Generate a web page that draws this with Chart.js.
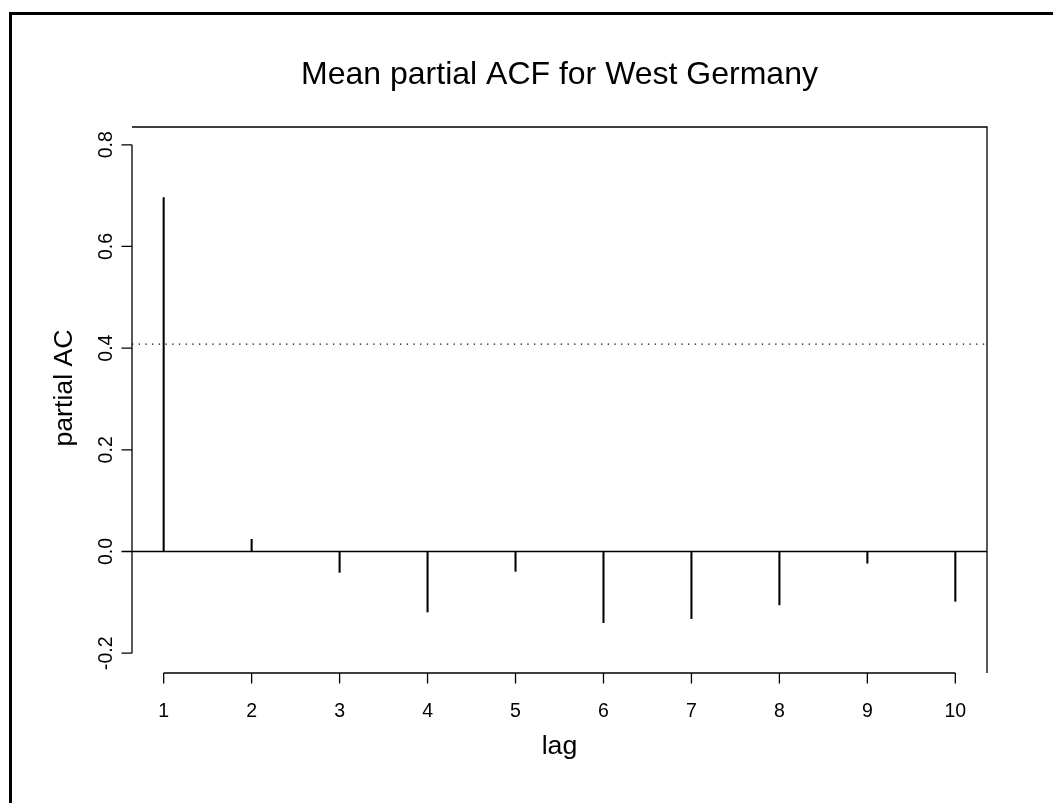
<!DOCTYPE html>
<html>
<head>
<meta charset="utf-8">
<script src="https://cdn.jsdelivr.net/npm/chart.js@4"></script>
<style>
html,body{margin:0;padding:0;background:#fff;}
canvas{display:block;}
</style>
</head>
<body>
<canvas id="c" width="1053" height="803"></canvas>
<script>
const titleText = 'Mean partial ACF for West Germany';
const xLabel = 'lag';
const yLabel = 'partial AC';
const lags = [1, 2, 3, 4, 5, 6, 7, 8, 9, 10];
const pacf = [0.696, 0.024, -0.041, -0.119, -0.039, -0.140, -0.132, -0.105, -0.023, -0.098];
const xTicks = [1, 2, 3, 4, 5, 6, 7, 8, 9, 10];
const yTicks = [-0.2, 0.0, 0.2, 0.4, 0.6, 0.8];
const yTickLabels = ['-0.2', '0.0', '0.2', '0.4', '0.6', '0.8'];
const ciBound = 0.408;
const zeroLine = 0;
const xRange = [0.64, 10.36];
const yRange = [-0.239, 0.835];

const FONT = '"Liberation Sans", Arial, Helvetica, sans-serif';
const INK = '#000';

const rPlot = {
  id: 'rPlot',
  beforeDatasetsDraw(chart) {
    const ctx = chart.ctx, a = chart.chartArea;
    const x = chart.scales.x, y = chart.scales.y;
    ctx.save();
    // outer frame (top and left)
    ctx.fillStyle = INK;
    ctx.fillRect(9, 12, chart.width - 9, 3);
    ctx.fillRect(9, 12, 3, chart.height - 12);
    ctx.strokeStyle = INK;
    ctx.lineWidth = 1.3;
    // box bty="7": top and right
    ctx.beginPath();
    ctx.moveTo(a.left, a.top);
    ctx.lineTo(a.right, a.top);
    ctx.lineTo(a.right, a.bottom);
    ctx.stroke();
    // zero line
    ctx.beginPath();
    ctx.moveTo(a.left, y.getPixelForValue(zeroLine));
    ctx.lineTo(a.right, y.getPixelForValue(zeroLine));
    ctx.stroke();
    // dotted bound
    ctx.setLineDash([1.3, 5.4]);
    ctx.beginPath();
    ctx.moveTo(a.left, y.getPixelForValue(ciBound));
    ctx.lineTo(a.right, y.getPixelForValue(ciBound));
    ctx.stroke();
    ctx.setLineDash([]);
    // y axis
    const y0 = y.getPixelForValue(yTicks[0]), y1 = y.getPixelForValue(yTicks[yTicks.length - 1]);
    ctx.beginPath();
    ctx.moveTo(a.left, y0);
    ctx.lineTo(a.left, y1);
    yTicks.forEach(v => {
      const p = y.getPixelForValue(v);
      ctx.moveTo(a.left, p);
      ctx.lineTo(a.left - 10.5, p);
    });
    ctx.stroke();
    // x axis
    const x0 = x.getPixelForValue(xTicks[0]), x1 = x.getPixelForValue(xTicks[xTicks.length - 1]);
    ctx.beginPath();
    ctx.moveTo(x0, a.bottom);
    ctx.lineTo(x1, a.bottom);
    xTicks.forEach(v => {
      const p = x.getPixelForValue(v);
      ctx.moveTo(p, a.bottom);
      ctx.lineTo(p, a.bottom + 10.5);
    });
    ctx.stroke();
    // tick labels
    ctx.fillStyle = INK;
    ctx.font = '19.5px ' + FONT;
    ctx.textAlign = 'center';
    ctx.textBaseline = 'alphabetic';
    xTicks.forEach(v => {
      ctx.fillText(String(v), x.getPixelForValue(v), a.bottom + 44);
    });
    yTicks.forEach((v, i) => {
      ctx.save();
      ctx.translate(a.left - 20.5, y.getPixelForValue(v));
      ctx.rotate(-Math.PI / 2);
      ctx.fillText(yTickLabels[i], 0, 0);
      ctx.restore();
    });
    // axis labels
    ctx.font = '26.7px ' + FONT;
    ctx.fillText(xLabel, (a.left + a.right) / 2, a.bottom + 81);
    ctx.save();
    ctx.translate(a.left - 60, (a.top + a.bottom) / 2 - 12);
    ctx.rotate(-Math.PI / 2);
    ctx.fillText(yLabel, 0, 0);
    ctx.restore();
    // title
    ctx.font = '32px ' + FONT;
    ctx.fillText(titleText, (a.left + a.right) / 2, 84);
    ctx.restore();
  }
};

new Chart(document.getElementById('c'), {
  type: 'bar',
  data: {
    datasets: [{
      data: lags.map((l, i) => ({ x: l, y: pacf[i] })),
      backgroundColor: INK,
      borderWidth: 0,
      barThickness: 1.4
    }]
  },
  options: {
    responsive: false,
    animation: false,
    devicePixelRatio: 1,
    layout: { padding: { left: 132, top: 127, right: 66, bottom: 130 } },
    plugins: { legend: { display: false }, tooltip: { enabled: false }, title: { display: false } },
    scales: {
      x: { type: 'linear', min: xRange[0], max: xRange[1], display: false, offset: false },
      y: { type: 'linear', min: yRange[0], max: yRange[1], display: false }
    }
  },
  plugins: [rPlot]
});
</script>
</body>
</html>
